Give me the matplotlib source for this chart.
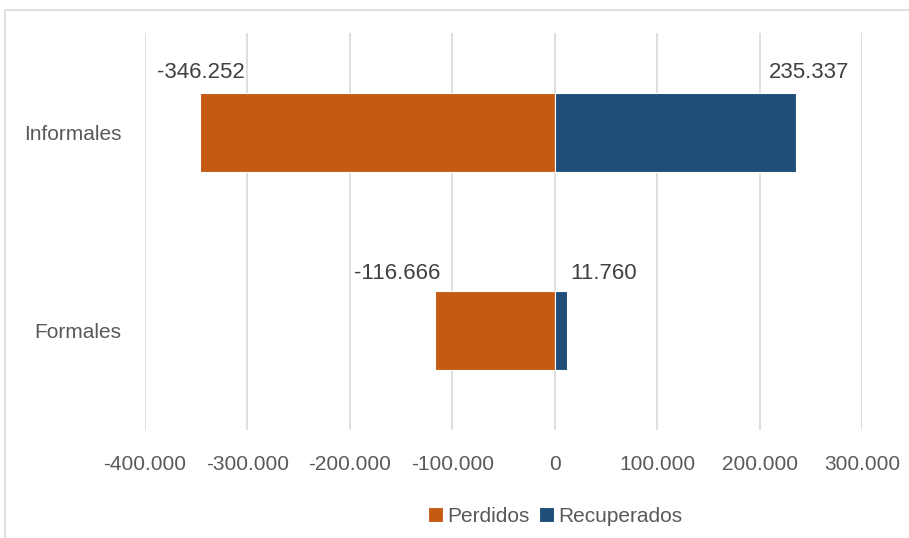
import matplotlib.pyplot as plt
from matplotlib.patches import Rectangle

# datos
categorias = ['Formales', 'Informales']
perdidos = [-116666, -346252]
recuperados = [11760, 235337]
ticks_x = [-400000, -300000, -200000, -100000, 0, 100000, 200000, 300000]

naranja = '#C55A11'
azul = '#1F4E79'
gris = '#595959'

plt.rcParams['font.family'] = ['Liberation Sans', 'DejaVu Sans']
tam = 15


def fmt(v):
    return f'{v:,.0f}'.replace(',', '.')


fig = plt.figure(figsize=(9.09, 5.38), dpi=100)
ax = fig.add_axes([145 / 909, 1 - 430 / 538, 717 / 909, 397 / 538])

# borde del area del grafico (solo se ve arriba e izquierda)
fig.patches.append(Rectangle((5 / 909, -0.1), 1.2, 1 - 10 / 538 + 0.1,
                             transform=fig.transFigure, fill=False,
                             edgecolor='#D9D9D9', lw=1.2))

y = range(len(categorias))
b1 = ax.barh(y, perdidos, height=0.4, color=naranja, edgecolor='white', lw=0.8,
             label='Perdidos', zorder=3)
b2 = ax.barh(y, recuperados, height=0.4, color=azul, edgecolor='white', lw=0.8,
             label='Recuperados', zorder=3)

# etiquetas de datos (desplazadas a mano como en el original)
desp_p = [-38, 1]
desp_r = [37, 13]
desp_y = [7, 10]
for i in y:
    ax.annotate(fmt(perdidos[i]), (perdidos[i], i + 0.2), xytext=(desp_p[i], desp_y[i]),
                textcoords='offset pixels', ha='center', va='bottom',
                fontsize=tam + 1, color='#404040')
    ax.annotate(fmt(recuperados[i]), (recuperados[i], i + 0.2), xytext=(desp_r[i], desp_y[i]),
                textcoords='offset pixels', ha='center', va='bottom',
                fontsize=tam + 1, color='#404040')

ax.set_xlim(-400000, 300000)
ax.set_ylim(-0.5, 1.5)
ax.set_xticks(ticks_x)
ax.set_xticklabels([fmt(t) for t in ticks_x])
ax.set_yticks(list(y))
ax.set_yticklabels(categorias)
ax.tick_params(axis='x', length=0, pad=18, labelsize=tam, labelcolor=gris)
ax.tick_params(axis='y', length=0, pad=17, labelsize=tam, labelcolor=gris)
ax.grid(axis='x', color='#D9D9D9', lw=1.2, zorder=0)
for s in ax.spines.values():
    s.set_visible(False)

fig.legend(handles=[b1, b2], loc='center', bbox_to_anchor=(555 / 909, 1 - 516 / 538),
           ncol=2, frameon=False, fontsize=tam, labelcolor=gris,
           handlelength=0.72, handleheight=0.72, handletextpad=0.2, columnspacing=0.45)

plt.savefig('out.png', dpi=100)
